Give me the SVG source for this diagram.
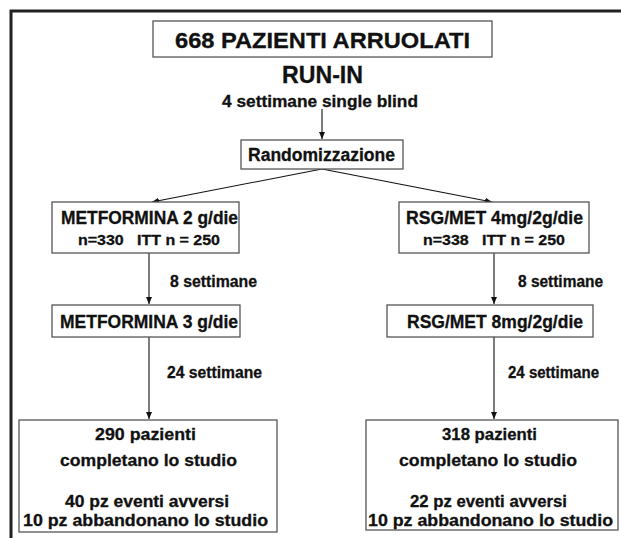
<svg xmlns="http://www.w3.org/2000/svg" width="621" height="538" viewBox="0 0 621 538">
<style>
text{font-family:"Liberation Sans",Arial,sans-serif;font-weight:bold;fill:#111;stroke:#111;stroke-width:0.3;text-anchor:middle}
.box{fill:#fff;stroke:#555;stroke-width:1.3}
.ln{stroke:#111;stroke-width:1.1;fill:none;marker-end:url(#ah)}
.s{text-anchor:start}
</style>
<defs>
<marker id="ah" markerUnits="userSpaceOnUse" markerWidth="8" markerHeight="8" refX="7" refY="3" orient="auto">
<path d="M0,0 L7,3 L0,6 z" fill="#111"/>
</marker>
</defs>
<rect width="621" height="538" fill="#fff"/>
<path d="M11,538 V11 H621" fill="none" stroke="#222" stroke-width="3"/>

<g id="connectors">
<line class="ln" x1="322" y1="109" x2="322" y2="139"/>
<line class="ln" x1="322" y1="169" x2="152" y2="202"/>
<line class="ln" x1="322" y1="169" x2="492" y2="202"/>
<line class="ln" x1="149" y1="253" x2="149" y2="304"/>
<line class="ln" x1="494" y1="253" x2="494" y2="304"/>
<line class="ln" x1="149" y1="337" x2="149" y2="419"/>
<line class="ln" x1="494" y1="337" x2="494" y2="419"/>
</g>

<g id="title">
<rect class="box" x="153" y="21" width="339" height="36"/>
<text x="322.5" y="48" font-size="21.5" textLength="295" lengthAdjust="spacingAndGlyphs">668 PAZIENTI ARRUOLATI</text>
</g>

<g id="runin">
<text x="322.5" y="83" font-size="23" textLength="81" lengthAdjust="spacingAndGlyphs">RUN-IN</text>
<text x="320" y="107" font-size="16.5" textLength="196" lengthAdjust="spacingAndGlyphs">4 settimane single blind</text>
</g>

<g id="random">
<rect class="box" x="241" y="140" width="162" height="29"/>
<text x="321.5" y="161" font-size="18" textLength="147" lengthAdjust="spacingAndGlyphs">Randomizzazione</text>
</g>

<g id="met2">
<rect class="box" x="52" y="202" width="187" height="51"/>
<text x="149.5" y="224" font-size="17.5" textLength="177" lengthAdjust="spacingAndGlyphs">METFORMINA 2 g/die</text>
<text x="149" y="245" font-size="15" textLength="142" lengthAdjust="spacingAndGlyphs" xml:space="preserve">n=330   ITT n = 250</text>
</g>

<g id="rsg4">
<rect class="box" x="399" y="202" width="190" height="51"/>
<text x="494.5" y="224" font-size="17.5" textLength="177" lengthAdjust="spacingAndGlyphs">RSG/MET 4mg/2g/die</text>
<text x="494" y="245" font-size="15" textLength="142" lengthAdjust="spacingAndGlyphs" xml:space="preserve">n=338   ITT n = 250</text>
</g>

<g id="lbl8">
<text class="s" x="170" y="287" font-size="16" textLength="87" lengthAdjust="spacingAndGlyphs">8 settimane</text>
<text class="s" x="518" y="287" font-size="16" textLength="85" lengthAdjust="spacingAndGlyphs">8 settimane</text>
</g>

<g id="met3">
<rect class="box" x="52" y="305" width="188" height="32"/>
<text x="149" y="328" font-size="17.5" textLength="178" lengthAdjust="spacingAndGlyphs">METFORMINA 3 g/die</text>
</g>

<g id="rsg8">
<rect class="box" x="387" y="305" width="206" height="32"/>
<text x="495" y="328" font-size="17.5" textLength="176" lengthAdjust="spacingAndGlyphs">RSG/MET 8mg/2g/die</text>
</g>

<g id="lbl24">
<text class="s" x="167" y="378" font-size="16" textLength="95" lengthAdjust="spacingAndGlyphs">24 settimane</text>
<text class="s" x="508" y="378" font-size="16" textLength="91" lengthAdjust="spacingAndGlyphs">24 settimane</text>
</g>

<g id="endL">
<rect class="box" x="19" y="420" width="258" height="112"/>
<text x="145.5" y="440" font-size="17" textLength="101" lengthAdjust="spacingAndGlyphs">290 pazienti</text>
<text x="148.5" y="466" font-size="17" textLength="177" lengthAdjust="spacingAndGlyphs">completano lo studio</text>
<text x="147" y="507" font-size="16.5" textLength="164" lengthAdjust="spacingAndGlyphs">40 pz eventi avversi</text>
<text x="145.5" y="526" font-size="16.5" textLength="245" lengthAdjust="spacingAndGlyphs">10 pz abbandonano lo studio</text>
</g>

<g id="endR">
<rect class="box" x="366" y="420" width="252" height="110"/>
<text x="489.5" y="440" font-size="17" textLength="95" lengthAdjust="spacingAndGlyphs">318 pazienti</text>
<text x="488" y="466" font-size="17" textLength="178" lengthAdjust="spacingAndGlyphs">completano lo studio</text>
<text x="488.5" y="507" font-size="16.5" textLength="157" lengthAdjust="spacingAndGlyphs">22 pz eventi avversi</text>
<text x="490.5" y="526" font-size="16.5" textLength="245" lengthAdjust="spacingAndGlyphs">10 pz abbandonano lo studio</text>
</g>
</svg>
